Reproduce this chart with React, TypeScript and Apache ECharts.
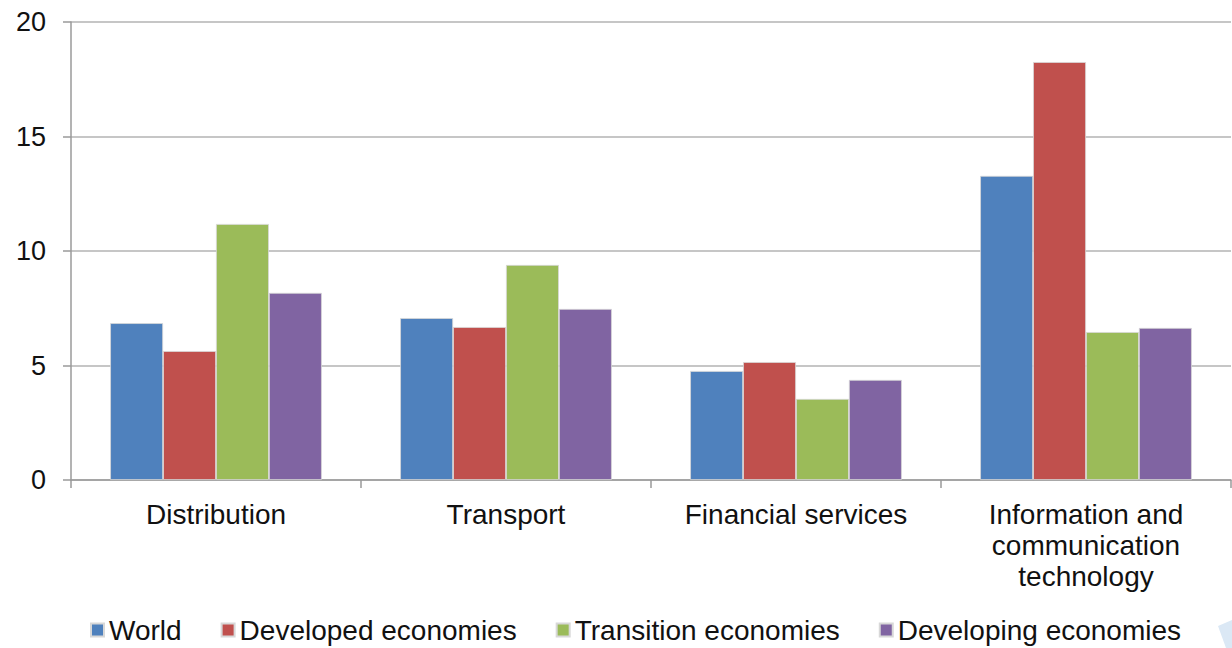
import React, { useEffect, useRef } from "react";
import * as echarts from "echarts";

const categories = [
  "Distribution",
  "Transport",
  "Financial services",
  "Information and\ncommunication\ntechnology",
];
const seriesNames = ["World", "Developed economies", "Transition economies", "Developing economies"];
const world = [6.85, 7.07, 4.76, 13.28];
const developed = [5.63, 6.68, 5.15, 18.25];
const transition = [11.18, 9.39, 3.54, 6.46];
const developing = [8.17, 7.47, 4.37, 6.64];
const colors = ["#4F81BD", "#C0504D", "#9BBB59", "#8064A2"];
const yTicks = [0, 5, 10, 15, 20];

const FONT = "Liberation Sans, Arial, sans-serif";

export default function App() {
  const ref = useRef<HTMLDivElement>(null);
  useEffect(() => {
    if (!ref.current) return;
    const chart = echarts.init(ref.current, undefined, { renderer: "svg" });
    const values = [world, developed, transition, developing];
    chart.setOption({
      animation: false,
      backgroundColor: "#ffffff",
      textStyle: { fontFamily: FONT },
      grid: { left: 71, right: 1, top: 22, bottom: 168 },
      legend: {
        left: 90,
        top: 616,
        padding: 0,
        itemWidth: 13,
        itemHeight: 13,
        itemGap: 39,
        icon: "rect",
        textStyle: { fontSize: 28, color: "#111", fontFamily: FONT, lineHeight: 28 },
        data: seriesNames,
      },
      xAxis: {
        type: "category",
        data: categories,
        axisLine: { lineStyle: { color: "#9a9a9a", width: 1.5 } },
        axisTick: { show: true, length: 8, lineStyle: { color: "#9a9a9a", width: 1.5 } },
        axisLabel: {
          fontSize: 28,
          color: "#111",
          lineHeight: 31,
          margin: 19,
          interval: 0,
          fontFamily: FONT,
        },
      },
      yAxis: {
        type: "value",
        min: yTicks[0],
        max: yTicks[yTicks.length - 1],
        interval: 5,
        axisLine: { show: true, lineStyle: { color: "#9a9a9a", width: 1.5 } },
        axisTick: { show: true, length: 8, lineStyle: { color: "#9a9a9a", width: 1.5 } },
        splitLine: { lineStyle: { color: "#b3b3b3", width: 1.5 } },
        axisLabel: {
          fontSize: 27,
          color: "#111",
          margin: 25,
          fontFamily: FONT,
        },
      },
      series: seriesNames.map((name, i) => ({
        name,
        type: "bar",
        data: values[i],
        barGap: "0%",
        barCategoryGap: "27%",
        itemStyle: { color: colors[i], borderColor: "#d8d8d8", borderWidth: 0.8 },
      })),
      graphic: [
        {
          type: "polygon",
          shape: { points: [[1218, 626], [1232, 620], [1232, 648], [1226, 648]] },
          style: { fill: "#dbe8f5" },
          silent: true,
        },
      ],
    });
    return () => chart.dispose();
  }, []);
  return (
    <div
      ref={ref}
      style={{ position: "fixed", left: 0, top: 0, width: 1232, height: 648 }}
    />
  );
}
